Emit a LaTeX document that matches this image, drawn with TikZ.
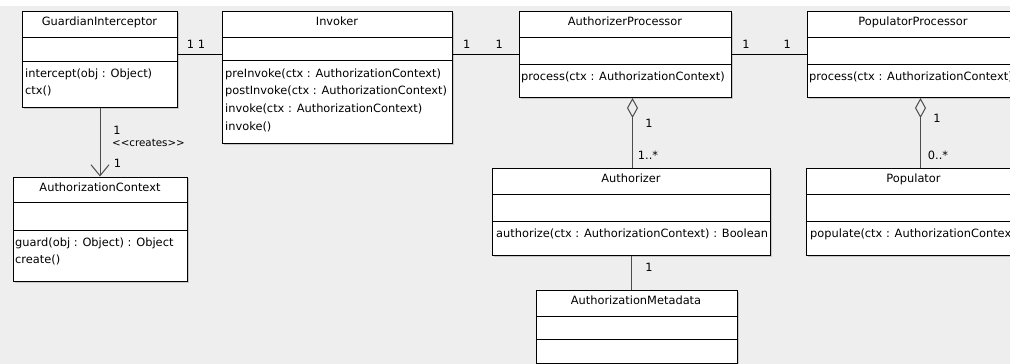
\documentclass[tikz,border=0pt]{standalone}
\usepackage{fontspec}
\setmainfont{DejaVu Sans}
\usetikzlibrary{arrows.meta,shadows}
\definecolor{canvasgray}{RGB}{238,238,238}

\begin{document}
\begin{tikzpicture}[x=1pt, y=-1pt,
    font=\fontsize{11.4}{13.7}\selectfont]
    % styles of boxes, texts and lines
    \tikzset{classbox/.style={draw=black,fill=white,line width=1pt,anchor=north west,inner sep=0pt,
               drop shadow={shadow xshift=1pt,shadow yshift=-1pt,opacity=.35}},
             sepline/.style={draw=black,line width=1pt},
             ctitle/.style={anchor=base,inner sep=0pt},
             coper/.style={anchor=base west,inner sep=0pt},
             mult/.style={inner sep=0pt},
             assoc/.style={draw=black,line width=1pt},
             link/.style={draw=black!70,line width=1pt},
             aggr/.style={link,{Diamond[open,length=20pt,width=11pt]}-}}
    % background
    \clip (0,0) rectangle (1010,364);
    \fill[canvasgray] (0,6) rectangle (1010,364);
    \fill[white] (0,0) rectangle (1010,6);
    % class "GuardianInterceptor"
    \node[classbox,minimum width=155pt,minimum height=96pt] (guardian) at (22,11) {};
    \draw[sepline] ([yshift=-26pt]guardian.north west) -- ([yshift=-26pt]guardian.north east)
                   ([yshift=-50pt]guardian.north west) -- ([yshift=-50pt]guardian.north east);
    \node[ctitle] (guardiantitle) at (99.5,25) {GuardianInterceptor};
    \node[coper] (guardianop1) at (25,77) {intercept(obj : Object)};
    \node[coper] (guardianop2) at (25,94.7) {ctx()};
    % class "Invoker"
    \node[classbox,minimum width=230pt,minimum height=132pt] (invoker) at (222,11) {};
    \draw[sepline] ([yshift=-26pt]invoker.north west) -- ([yshift=-26pt]invoker.north east)
                   ([yshift=-49.5pt]invoker.north west) -- ([yshift=-49.5pt]invoker.north east);
    \node[ctitle] (invokertitle) at (337,25) {Invoker};
    \foreach \op [count=\i] in {preInvoke(ctx : AuthorizationContext),postInvoke(ctx : AuthorizationContext),
                                invoke(ctx : AuthorizationContext),invoke()}
      \node[coper] (invokerop\i) at (225,{59.3+17.7*\i}) {\op};
    % class "AuthorizerProcessor"
    \node[classbox,minimum width=212pt,minimum height=86pt] (authproc) at (519,11) {};
    \draw[sepline] ([yshift=-26pt]authproc.north west) -- ([yshift=-26pt]authproc.north east)
                   ([yshift=-53pt]authproc.north west) -- ([yshift=-53pt]authproc.north east);
    \node[ctitle] (authproctitle) at (625,25) {AuthorizerProcessor};
    \node[coper] (authprocop) at (521,80) {process(ctx : AuthorizationContext)};
    % class "PopulatorProcessor"
    \node[classbox,minimum width=212pt,minimum height=86pt] (popproc) at (807,11) {};
    \draw[sepline] ([yshift=-26pt]popproc.north west) -- ([yshift=-26pt]popproc.north east)
                   ([yshift=-53pt]popproc.north west) -- ([yshift=-53pt]popproc.north east);
    \node[ctitle] (popproctitle) at (913,25) {PopulatorProcessor};
    \node[coper] (popprocop) at (809,80) {process(ctx : AuthorizationContext)};
    % class "AuthorizationContext"
    \node[classbox,minimum width=174pt,minimum height=104.5pt] (authctx) at (13,176.5) {};
    \draw[sepline] ([yshift=-26pt]authctx.north west) -- ([yshift=-26pt]authctx.north east)
                   ([yshift=-53.5pt]authctx.north west) -- ([yshift=-53.5pt]authctx.north east);
    \node[ctitle] (authctxtitle) at (100,191) {AuthorizationContext};
    \node[coper] (authctxop1) at (15,246) {guard(obj : Object) : Object};
    \node[coper] (authctxop2) at (15,263.7) {create()};
    % class "Authorizer"
    \node[classbox,minimum width=278pt,minimum height=87pt] (authorizer) at (492,168) {};
    \draw[sepline] ([yshift=-26pt]authorizer.north west) -- ([yshift=-26pt]authorizer.north east)
                   ([yshift=-53pt]authorizer.north west) -- ([yshift=-53pt]authorizer.north east);
    \node[ctitle] (authorizertitle) at (631,182) {Authorizer};
    \node[coper] (authorizerop) at (496,237) {authorize(ctx : AuthorizationContext) : Boolean};
    % class "Populator"
    \node[classbox,minimum width=215pt,minimum height=87pt] (populator) at (806,168) {};
    \draw[sepline] ([yshift=-26pt]populator.north west) -- ([yshift=-26pt]populator.north east)
                   ([yshift=-53pt]populator.north west) -- ([yshift=-53pt]populator.north east);
    \node[ctitle] (populatortitle) at (913.5,182) {Populator};
    \node[coper] (populatorop) at (810,237) {populate(ctx : AuthorizationContext)};
    % class "AuthorizationMetadata"
    \node[classbox,minimum width=201pt,minimum height=73pt] (metadata) at (536,290) {};
    \draw[sepline] ([yshift=-26pt]metadata.north west) -- ([yshift=-26pt]metadata.north east)
                   ([yshift=-49pt]metadata.north west) -- ([yshift=-49pt]metadata.north east);
    \node[ctitle] (metadatatitle) at (636,304) {AuthorizationMetadata};
    % associations
    \draw[assoc] ([yshift=5pt]guardian.east) -- ([yshift=5pt]guardian.east -| invoker.west);
    \draw[assoc] (authproc.west -| invoker.east) -- (authproc.west);
    \draw[assoc] (authproc.east) -- (popproc.west);
    \draw[link] (authorizer.south) -- (authorizer.south |- metadata.north);
    \draw[link,-{Straight Barb[length=11pt,width=18pt]}] (guardian.south) -- (guardian.south |- authctx.north);
    % aggregations
    \draw[aggr] ([xshift=7pt]authproc.south) -- ([xshift=7pt]authproc.south |- authorizer.north);
    \draw[aggr] ([xshift=7pt]popproc.south) -- ([xshift=7pt]popproc.south |- populator.north);
    % multiplicities
    \node[mult] (m1) at (190.5,44) {1};
    \node[mult] (m2) at (201.5,44) {1};
    \node[mult] (m3) at (466.7,44) {1};
    \node[mult] (m4) at (499.3,44) {1};
    \node[mult] (m5) at (746,44) {1};
    \node[mult] (m6) at (787.3,44) {1};
    \node[mult] (m7) at (649,123) {1};
    \node[mult] (m8) at (648,155) {1..*};
    \node[mult] (m9) at (649,267) {1};
    \node[mult] (m10) at (937,118) {1};
    \node[mult] (m11) at (938,155) {0..*};
    \node[mult] (m12) at (117,130) {1};
    \node[mult,font=\fontsize{10.3}{12}\selectfont] (creates) at (148.5,142.7) {<{}<creates>{}>};
    \node[mult] (m13) at (117.5,163) {1};
\end{tikzpicture}
\end{document}
